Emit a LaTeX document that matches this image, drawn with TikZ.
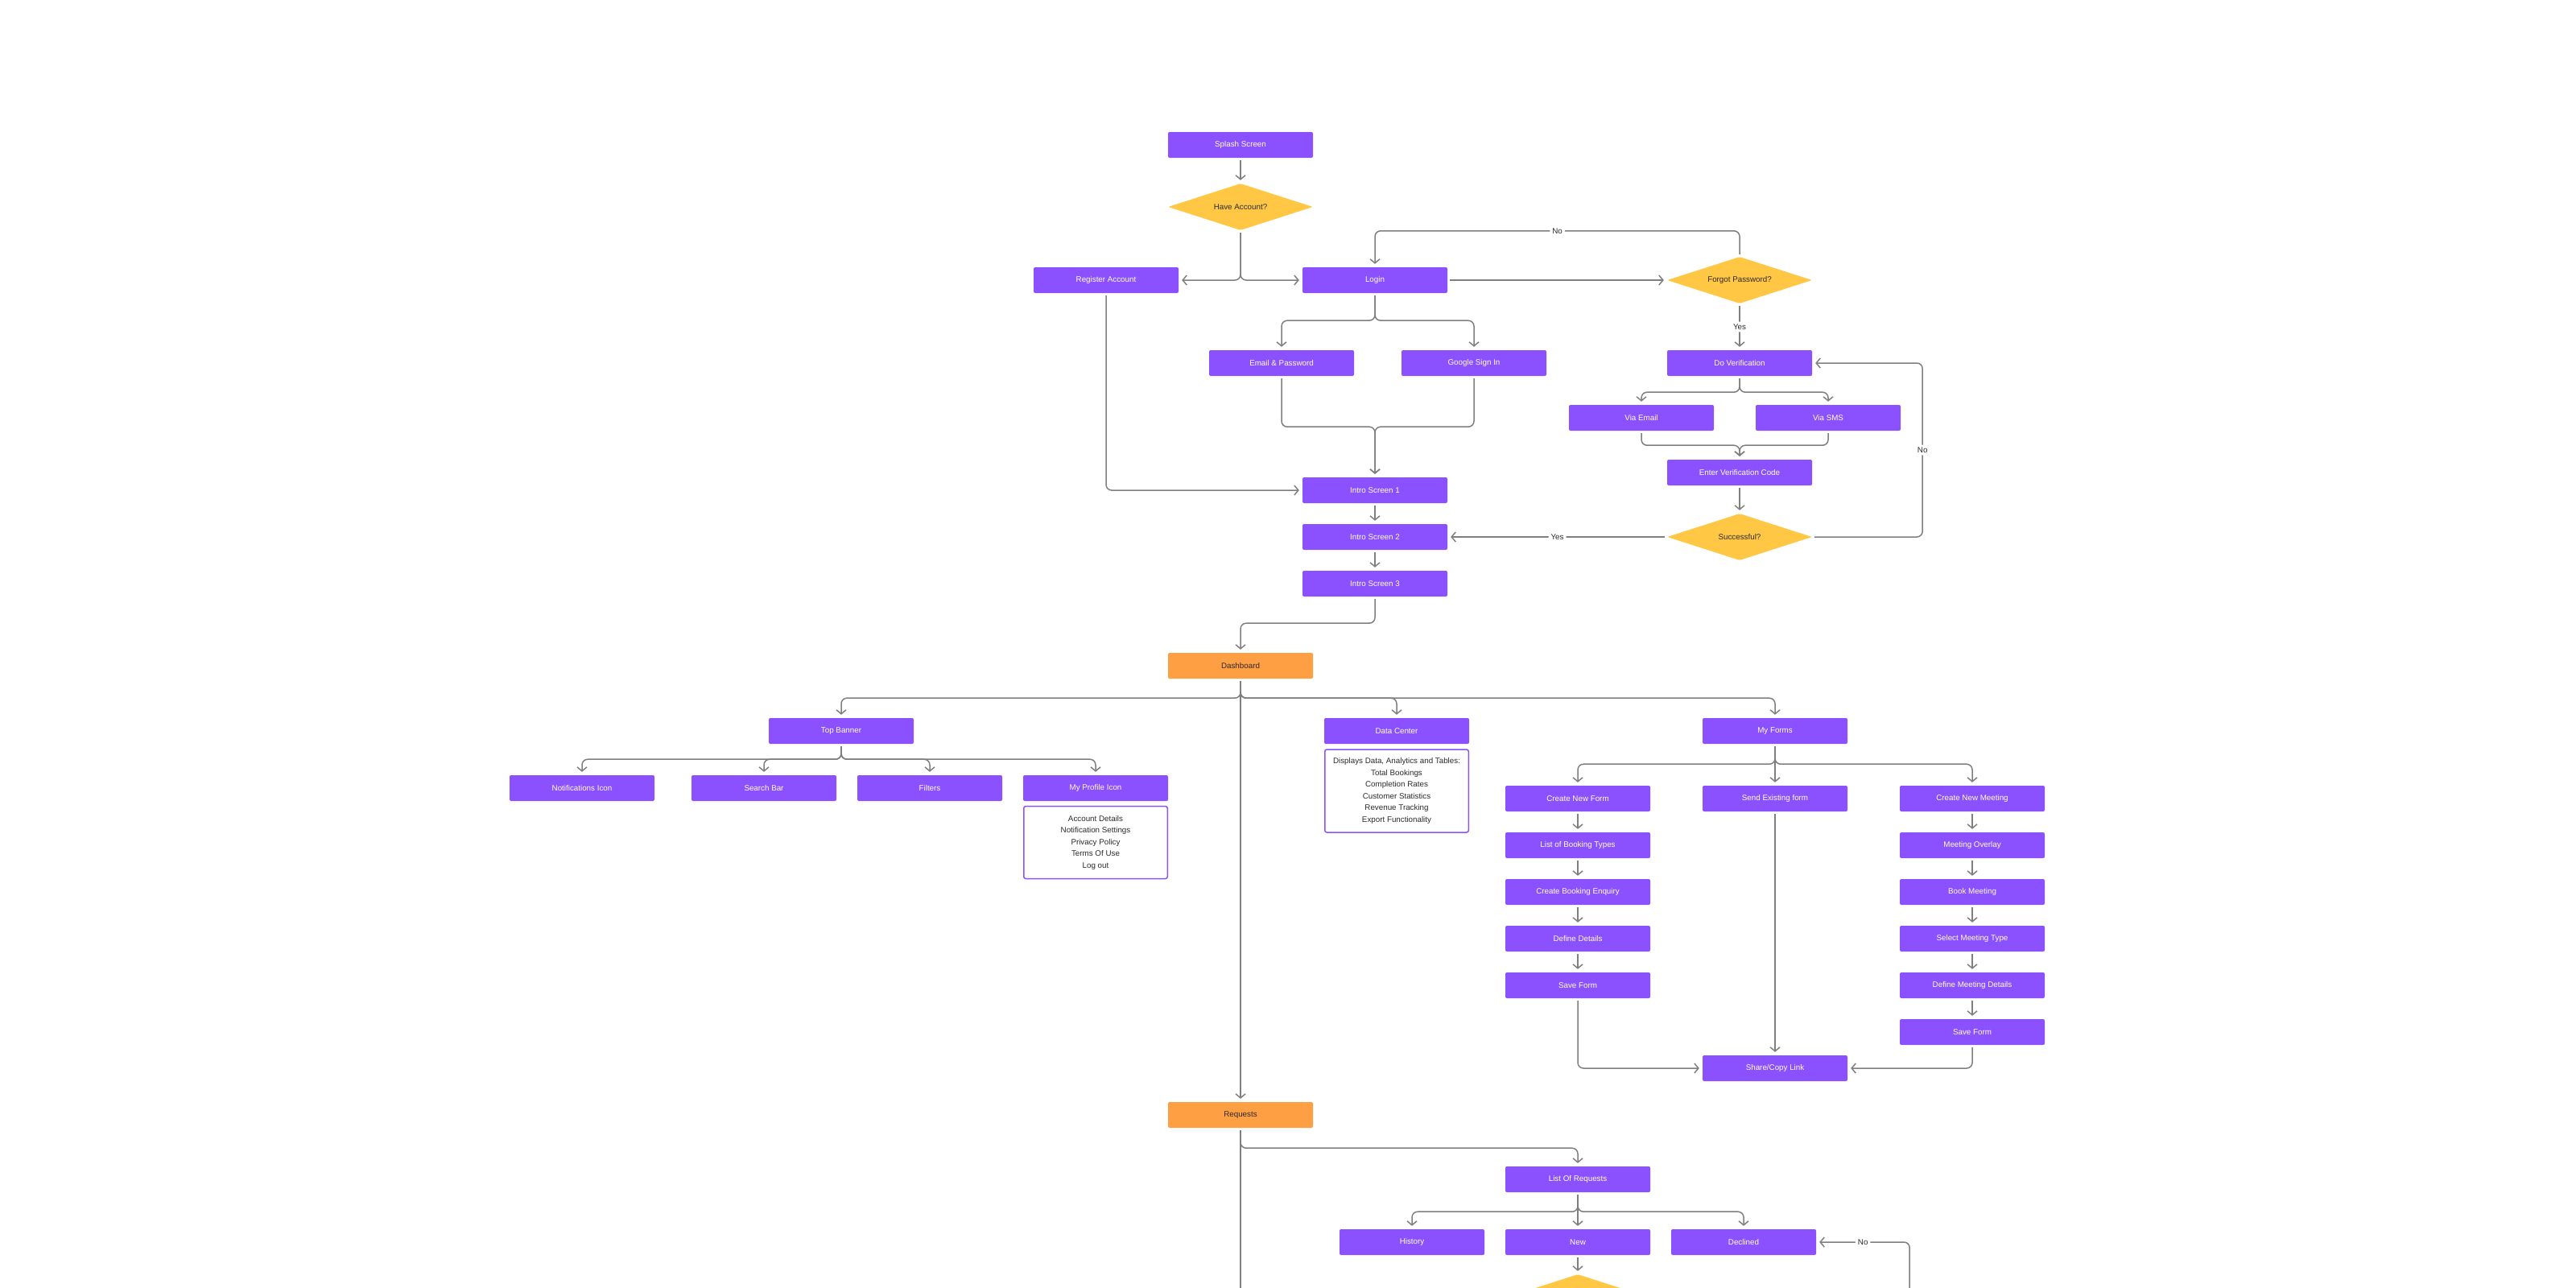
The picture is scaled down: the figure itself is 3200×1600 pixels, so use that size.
\documentclass[tikz,border=0pt]{standalone}
\usepackage{fontspec}
\setmainfont{Liberation Sans}
\usetikzlibrary{arrows.meta,shapes.geometric}
\definecolor{pur}{HTML}{8B51FF}
\definecolor{yel}{HTML}{FFC744}
\definecolor{org}{HTML}{FF9F43}
\definecolor{ln}{HTML}{7F7F7F}
\definecolor{txt}{HTML}{2B2B2B}
\begin{document}
\begin{tikzpicture}[x=1pt,y=-1pt,
  box/.style={rectangle, rounded corners=2pt, minimum width=180pt, minimum height=32pt, inner sep=0pt, font=\fontsize{9.8}{11}\selectfont},
  pbox/.style={box, fill=pur, text=white},
  obox/.style={box, fill=org, text=txt},
  dec/.style={diamond, aspect=3.1, fill=yel, text=txt, minimum width=180pt, minimum height=58pt, inner sep=0pt, rounded corners=1.5pt, font=\fontsize{9.8}{11}\selectfont},
  lst/.style={rectangle, draw=pur, line width=1.5pt, fill=white, rounded corners=2.5pt, text=txt, align=center, minimum width=178.5pt, inner sep=0pt, font=\fontsize{9.8}{14.5}\selectfont},
  conn/.style={draw=ln, line width=1.5pt, rounded corners=7pt, -{Straight Barb[length=5pt,width=12pt]}, shorten >=4pt, shorten <=3pt},
  plain/.style={draw=ln, line width=1.5pt, rounded corners=7pt, shorten <=3pt},
  lbl/.style={fill=white, text=txt, inner sep=3pt, font=\fontsize{9.8}{11}\selectfont}
]
\fill[white] (0,0) rectangle (3200,1600);
\useasboundingbox (0,0) rectangle (3200,1600);

% ---- onboarding ----
\node[pbox] (splash) at (1541,180) {Splash Screen};
\node[dec]  (have)   at (1541,257) {Have Account?};
\node[pbox] (reg)    at (1374,348) {Register Account};
\node[pbox] (login)  at (1708,348) {Login};
\node[dec]  (forgot) at (2161,348) {Forgot Password?};
\node[pbox] (email)  at (1592,451) {Email \& Password};
\node[pbox] (google) at (1831,451) {Google Sign In};
\node[pbox] (dover)  at (2161,451) {Do Verification};
\node[pbox] (vemail) at (2039,519) {Via Email};
\node[pbox] (vsms)   at (2271,519) {Via SMS};
\node[pbox] (evc)    at (2161,587) {Enter Verification Code};
\node[dec]  (succ)   at (2161,667) {Successful?};
\node[pbox] (intro1) at (1708,609) {Intro Screen 1};
\node[pbox] (intro2) at (1708,667) {Intro Screen 2};
\node[pbox] (intro3) at (1708,725) {Intro Screen 3};

\draw[conn] (splash.south) -- (have.north);
\draw[conn] (have.south) |- (reg.east);
\draw[conn] (have.south) |- (login.west);
\draw[conn] (login.east) -- (forgot.west);
\draw[conn] (forgot.north) -- ++(0,-32) -| node[lbl,pos=0.25]{No} (login.north);
\draw[conn] (forgot.south) -- node[lbl]{Yes} (dover.north);
\draw[conn] (login.south) -- ++(0,34) -| (email.north);
\draw[conn] (login.south) -- ++(0,34) -| (google.north);
\draw[conn] (email.south) -- ++(0,63) -| (intro1.north);
\draw[conn] (google.south) -- ++(0,63) -| (intro1.north);
\draw[conn] (reg.south) |- (intro1.west);
\draw[conn] (intro1) -- (intro2);
\draw[conn] (intro2) -- (intro3);
\draw[conn] (dover.south) -- ++(0,20) -| (vemail.north);
\draw[conn] (dover.south) -- ++(0,20) -| (vsms.north);
\draw[conn] (vemail.south) -- ++(0,18) -| (evc.north);
\draw[conn] (vsms.south) -- ++(0,18) -| (evc.north);
\draw[conn] (evc.south) -- (succ.north);
\draw[conn] (succ.west) -- node[lbl]{Yes} (intro2.east);
\draw[conn] (succ.east) -- ++(137,0) |- node[lbl,pos=0.25]{No} (dover.east);

% ---- dashboard ----
\node[obox] (dash)   at (1541,827) {Dashboard};
\draw[conn] (intro3.south) -- ++(0,33) -| (dash.north);

\node[pbox] (top)    at (1045,908) {Top Banner};
\node[pbox] (data)   at (1735,908) {Data Center};
\node[pbox] (forms)  at (2205,908) {My Forms};
\node[obox] (req)    at (1541,1385) {Requests};

\draw[conn] (dash.south) -- ++(0,24) -| (top.north);
\draw[conn] (dash.south) -- ++(0,24) -| (data.north);
\draw[conn] (dash.south) -- ++(0,24) -| (forms.north);
\draw[conn] (dash.south) -- (req.north);

\node[pbox] (notif)  at (723,979)  {Notifications Icon};
\node[pbox] (search) at (949,979)  {Search Bar};
\node[pbox] (filt)   at (1155,979) {Filters};
\node[pbox] (prof)   at (1361,979) {My Profile Icon};
\node[lst, minimum height=90pt] (proflist) at (1361,1046.5)
  {Account Details\\Notification Settings\\Privacy Policy\\Terms Of Use\\Log out};
\node[lst, minimum height=103pt] (datalist) at (1735,982.5)
  {Displays Data, Analytics and Tables:\\Total Bookings\\Completion Rates\\Customer Statistics\\Revenue Tracking\\Export Functionality};

\draw[conn] (top.south) -- ++(0,19) -| (notif.north);
\draw[conn] (top.south) -- ++(0,19) -| (search.north);
\draw[conn] (top.south) -- ++(0,19) -| (filt.north);
\draw[conn] (top.south) -- ++(0,19) -| (prof.north);

% ---- my forms ----
\node[pbox] (cnf) at (1960,992)  {Create New Form};
\node[pbox] (lbt) at (1960,1050) {List of Booking Types};
\node[pbox] (cbe) at (1960,1108) {Create Booking Enquiry};
\node[pbox] (dd)  at (1960,1166) {Define Details};
\node[pbox] (sf1) at (1960,1224) {Save Form};
\node[pbox] (sef) at (2205,992)  {Send Existing form};
\node[pbox] (cnm) at (2450,992)  {Create New Meeting};
\node[pbox] (mo)  at (2450,1050) {Meeting Overlay};
\node[pbox] (bm)  at (2450,1108) {Book Meeting};
\node[pbox] (smt) at (2450,1166) {Select Meeting Type};
\node[pbox] (dmd) at (2450,1224) {Define Meeting Details};
\node[pbox] (sf2) at (2450,1282) {Save Form};
\node[pbox] (share) at (2205,1327) {Share/Copy Link};

\draw[conn] (forms.south) -- ++(0,25) -| (cnf.north);
\draw[conn] (forms.south) -- (sef.north);
\draw[conn] (forms.south) -- ++(0,25) -| (cnm.north);
\draw[conn] (cnf) -- (lbt);
\draw[conn] (lbt) -- (cbe);
\draw[conn] (cbe) -- (dd);
\draw[conn] (dd) -- (sf1);
\draw[conn] (cnm) -- (mo);
\draw[conn] (mo) -- (bm);
\draw[conn] (bm) -- (smt);
\draw[conn] (smt) -- (dmd);
\draw[conn] (dmd) -- (sf2);
\draw[conn] (sf1.south) |- (share.west);
\draw[conn] (sf2.south) |- (share.east);
\draw[conn] (sef.south) -- (share.north);

% ---- requests ----
\node[pbox] (lor)  at (1960,1465) {List Of Requests};
\node[pbox] (hist) at (1754,1543) {History};
\node[pbox] (new)  at (1960,1543) {New};
\node[pbox] (decl) at (2166,1543) {Declined};
\node[dec]  (ndec) at (1960,1612) {};
\coordinate (reqend) at (1541,1640);

\draw[conn] (req.south) -- ++(0,25) -| (lor.north);
\draw[plain] (req.south) -- (reqend);
\draw[conn] (lor.south) -- ++(0,24) -| (hist.north);
\draw[conn] (lor.south) -- (new.north);
\draw[conn] (lor.south) -- ++(0,24) -| (decl.north);
\draw[conn] (new.south) -- (ndec.north);
\draw[conn] (ndec.east) -- ++(322,0) |- node[lbl,pos=0.75]{No} (decl.east);
\end{tikzpicture}
\end{document}
